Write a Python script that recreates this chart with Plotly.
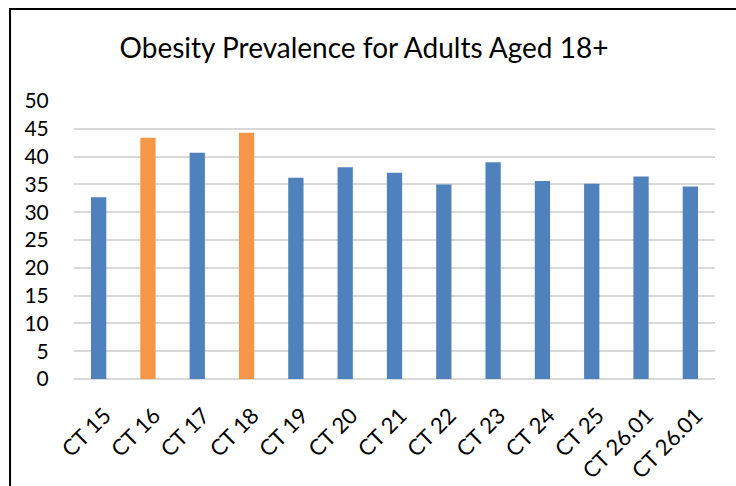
import plotly.graph_objects as go

# Census tracts and adult obesity prevalence (%)
tracts = ["CT 15", "CT 16", "CT 17", "CT 18", "CT 19", "CT 20", "CT 21",
          "CT 22", "CT 23", "CT 24", "CT 25", "CT 26.01", "CT 26.01"]
prevalence = [32.7, 43.4, 40.7, 44.3, 36.2, 38.1, 37.1,
              35.0, 39.0, 35.6, 35.1, 36.4, 34.6]
highlighted = {"CT 16", "CT 18"}

blue = "#4f81bd"
orange = "#f79646"
bar_colors = [orange if t in highlighted else blue for t in tracts]

y_ticks = list(range(0, 51, 5))

# numeric positions keep the two "CT 26.01" entries as separate bars
positions = list(range(len(tracts)))

font_family = "Lato, 'Open Sans', sans-serif"

fig = go.Figure(
    go.Bar(
        x=positions,
        y=prevalence,
        marker=dict(color=bar_colors, line=dict(width=0)),
        width=0.31,
        hoverinfo="y",
    )
)

fig.update_layout(
    width=736,
    height=486,
    margin=dict(l=74, r=21, t=101, b=107, autoexpand=False),
    paper_bgcolor="white",
    plot_bgcolor="white",
    showlegend=False,
    font=dict(family=font_family, color="black", size=21),
    title=dict(
        text="Obesity Prevalence for Adults Aged 18+",
        xref="container",
        x=0.4946,
        xanchor="center",
        yref="container",
        y=0.90,
        yanchor="middle",
        font=dict(family=font_family, size=28, color="black"),
    ),
    xaxis=dict(
        tickmode="array",
        tickvals=positions,
        ticktext=tracts,
        tickangle=-45,
        range=[-0.5, len(tracts) - 0.5],
        showgrid=False,
        showline=False,
        zeroline=False,
        ticks="outside",
        ticklen=14,
        tickcolor="rgba(0,0,0,0)",
        tickfont=dict(size=22),
        ticklabelshift=6,
        automargin=False,
    ),
    yaxis=dict(
        range=[0, 50],
        tickvals=y_ticks,
        showgrid=True,
        gridcolor="#d9d9d9",
        gridwidth=2,
        zeroline=True,
        zerolinecolor="#d9d9d9",
        zerolinewidth=2,
        showline=False,
        ticks="outside",
        ticklen=20,
        tickcolor="rgba(0,0,0,0)",
        tickfont=dict(size=21),
        automargin=False,
    ),
    shapes=[
        dict(
            type="rect",
            xref="paper",
            yref="paper",
            x0=-0.0998,
            x1=1.2,
            y0=-0.5,
            y1=1.331,
            line=dict(color="black", width=2),
            fillcolor="rgba(0,0,0,0)",
            layer="below",
        )
    ],
)

fig.write_html("out.html")
